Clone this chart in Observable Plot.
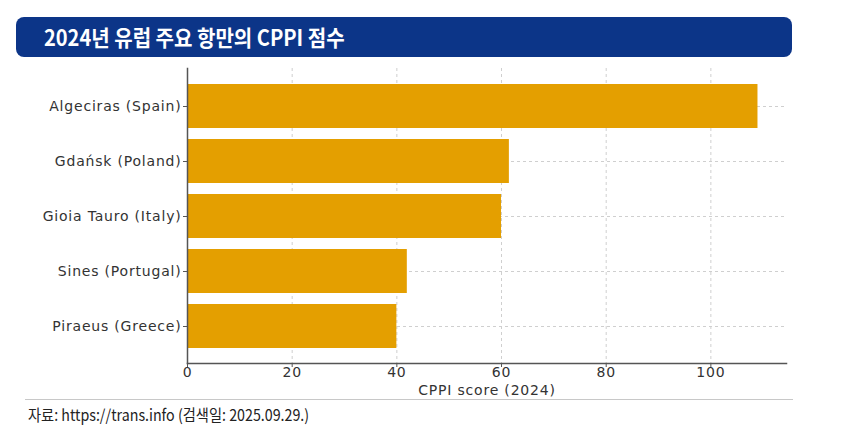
<!DOCTYPE html>
<html>
<head>
<meta charset="utf-8">
<script src="https://cdn.jsdelivr.net/npm/d3@7"></script>
<script src="https://cdn.jsdelivr.net/npm/@observablehq/plot@0.6"></script>
<style>
  html, body { margin: 0; padding: 0; background: #fff; width: 841px; height: 439px; overflow: hidden; }
  #title {
    position: absolute; left: 16px; top: 17px; width: 776px; height: 40px;
    background: #0c3588; border-radius: 8px; box-sizing: border-box; padding-left: 28px;
  }
  #title span {
    display: inline-block; transform: scaleX(0.91); transform-origin: left center;
    color: #fff; font-family: "Noto Sans CJK KR", sans-serif; font-weight: 700;
    font-size: 22px; line-height: 39px; white-space: nowrap;
  }
  #chart { position: absolute; left: 0; top: 60px; }
  #chart text { letter-spacing: 0.8px; }
  #sep { position: absolute; left: 25px; top: 399px; width: 768px; height: 0; border-top: 1.5px solid #c8c8c8; }
  #caption {
    position: absolute; left: 28px; top: 403px; white-space: nowrap;
    display: inline-block; transform: scaleX(0.89); transform-origin: left center;
    font-family: "Noto Sans CJK KR", sans-serif;
    font-size: 16px; color: #222; line-height: 22px;
  }
</style>
</head>
<body>
<div id="title"><span>2024년 유럽 주요 항만의 CPPI 점수</span></div>
<div id="chart"></div>
<div id="sep"></div>
<div id="caption">자료: https://trans.info (검색일: 2025.09.29.)</div>
<script>
const ports = ["Algeciras (Spain)", "Gdańsk (Poland)", "Gioia Tauro (Italy)", "Sines (Portugal)", "Piraeus (Greece)"];
const scores = [109, 61.5, 60, 42, 40];
const xTicks = [0, 20, 40, 60, 80, 100];
const xLabel = "CPPI score (2024)";

const data = ports.map((p, i) => ({port: p, score: scores[i]}));
const font = "DejaVu Sans";
const fs = 14;

const chart = Plot.plot({
  width: 841,
  height: 340,
  marginLeft: 187,
  marginRight: 55,
  marginTop: 8,
  marginBottom: 37,
  style: {fontFamily: font, fontSize: fs + "px", color: "#333", background: "transparent"},
  x: {domain: [0, 114.45], ticks: xTicks},
  y: {domain: ports, type: "band", paddingInner: 0.2, paddingOuter: 0.24},
  marks: [
    Plot.gridX(xTicks.slice(1), {stroke: "#cfcfcf", strokeOpacity: 1, strokeDasharray: "3,3"}),
    Plot.gridY({stroke: "#cfcfcf", strokeOpacity: 1, strokeDasharray: "3,3"}),
    Plot.barX(data, {x: "score", y: "port", fill: "#e49f00"}),
    Plot.frame({anchor: "left", stroke: "#555", strokeWidth: 1.5}),
    Plot.frame({anchor: "bottom", stroke: "#555", strokeWidth: 1.5}),
    Plot.axisY({tickSize: 4, tickPadding: 2, label: null, stroke: "#555", fontSize: fs, fontFamily: font}),
    Plot.axisX({ticks: xTicks, tickSize: 4, tickPadding: 0, label: null, stroke: "#555", fontSize: fs, fontFamily: font}),
    Plot.text([xLabel], {frameAnchor: "bottom", dy: 27, text: d => d, fontSize: fs, fontFamily: font, fill: "#333", lineAnchor: "middle"})
  ]
});
document.getElementById("chart").appendChild(chart);
</script>
</body>
</html>
